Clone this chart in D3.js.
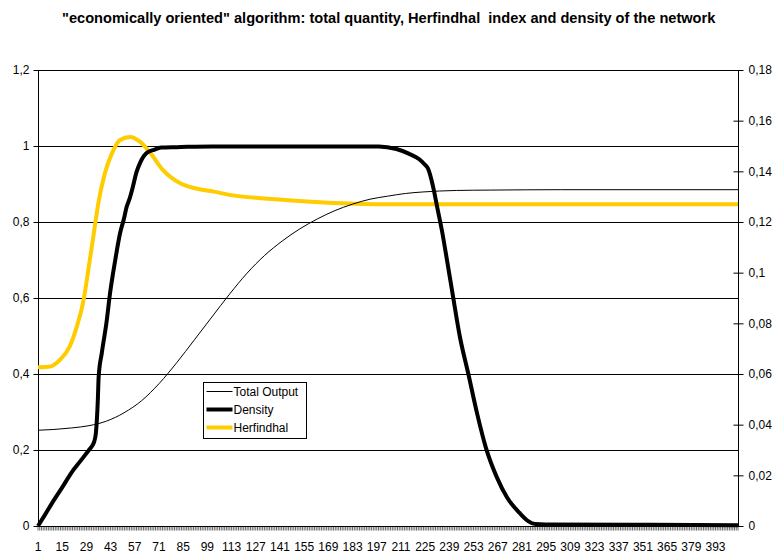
<!DOCTYPE html>
<html><head><meta charset="utf-8">
<script src="https://cdn.jsdelivr.net/npm/d3@7"></script>
<style>
body{margin:0;background:#fff}
svg{display:block}
text{font-family:"Liberation Sans",Arial,sans-serif;fill:#000}
</style>
</head><body>
<svg id="c" width="775" height="554"></svg>
<script>
const chartTitle = "\"economically oriented\" algorithm: total quantity, Herfindhal  index and density of the network";
const categoryFirst = 1, categoryLast = 406;
const xTickLabels = [1,15,29,43,57,71,85,99,113,127,141,155,169,183,197,211,225,239,253,267,281,295,309,323,337,351,365,379,393];
const leftTicks = [0,0.2,0.4,0.6,0.8,1,1.2];
const rightTicks = [0,0.02,0.04,0.06,0.08,0.1,0.12,0.14,0.16,0.18];
const seriesNames = ["Total Output","Density","Herfindhal"];

// Total Output (left axis)
const outputX = [1,10.2,20.3,30.5,40.6,50.8,61,71.1,81.3,91.5,101.6,111.8,121.9,132.1,142.3,152.5,162.6,172.8,183,193.1,203.3,213.5,223.6,243,263,304,406];
const outputY = [0.252,0.254,0.258,0.264,0.276,0.298,0.33,0.375,0.43,0.49,0.55,0.61,0.665,0.712,0.75,0.782,0.808,0.83,0.847,0.86,0.868,0.875,0.879,0.883,0.884,0.885,0.885];

// Density (left axis)
const densityX = [1,5.1,10.2,15.2,20.3,25.4,30.5,32.5,33.5,34.5,35.6,36.1,37.9,40.6,42.7,45.7,48.5,50.8,52.3,53.9,55.9,57.9,60,62,64,68.1,72.2,81.3,101.6,152.5,198.2,208.4,215.5,221.6,224.6,226.7,228.7,230.2,231.7,234.8,237.8,240.9,245,250,255.1,260.2,266.3,272.4,279.5,284.6,288.7,294.8,355.8,406];
const densityY = [0,0.03,0.068,0.103,0.14,0.17,0.2,0.212,0.222,0.245,0.33,0.393,0.455,0.535,0.613,0.7,0.771,0.81,0.84,0.86,0.893,0.93,0.955,0.972,0.982,0.99,0.996,0.997,0.999,0.999,0.999,0.992,0.98,0.965,0.952,0.94,0.91,0.88,0.845,0.775,0.695,0.61,0.5,0.4,0.295,0.205,0.13,0.075,0.035,0.013,0.005,0.004,0.003,0.002];

// Herfindhal (right axis)
const herfX = [1,8.1,13.7,19.3,23.4,27.4,30.1,33,35.9,39.6,43.7,48.5,54.3,60,66,73.2,83.3,92.5,102.7,111.8,132.1,152.5,172.8,203.3,406];
const herfY = [0.0627,0.063,0.0656,0.0708,0.0786,0.0893,0.101,0.1142,0.1274,0.139,0.147,0.1524,0.1536,0.1517,0.1472,0.1406,0.1353,0.1332,0.132,0.1307,0.1293,0.1283,0.1275,0.127,0.127];

const svg = d3.select("#c");
const L = 38, R = 738, T = 70, B = 526;

const x = d3.scaleLinear().domain([categoryFirst, categoryLast]).range([L, R]);
const yL = d3.scaleLinear().domain([0, 1.2]).range([B, T]);
const yR = d3.scaleLinear().domain([0, 0.18]).range([B, T]);
const fmt = v => String(+v.toFixed(2)).replace(".", ",");

// title
svg.append("text").attr("x", 62).attr("y", 23)
  .attr("font-size", 14.6).attr("font-weight", "bold")
  .style("white-space", "pre").text(chartTitle);

// gridlines
svg.append("g").selectAll("line").data(leftTicks.filter(d => d > 0)).join("line")
  .attr("x1", L).attr("x2", R)
  .attr("y1", d => Math.round(yL(d)) + 0.5).attr("y2", d => Math.round(yL(d)) + 0.5)
  .attr("stroke", "#000").attr("stroke-width", 1);

// left axis
const gL = svg.append("g").attr("transform", `translate(${L + 0.5},0)`)
  .call(d3.axisLeft(yL).tickValues(leftTicks).tickFormat(fmt).tickSize(5).tickPadding(4));
gL.selectAll("text").attr("font-size", 12).style("font-family", "Liberation Sans, Arial, sans-serif");
gL.selectAll("path,line").attr("stroke", "#000");
gL.select(".domain").attr("d", `M0,${T}V${B + 0.5}`);

// right axis
const gR = svg.append("g").attr("transform", `translate(${R + 0.5},0)`)
  .call(d3.axisRight(yR).tickValues(rightTicks).tickFormat(fmt).tickSize(5).tickPadding(5));
gR.selectAll("text").attr("font-size", 12).style("font-family", "Liberation Sans, Arial, sans-serif");
gR.selectAll("path,line").attr("stroke", "#000");
gR.selectAll(".tick line").attr("x1", -5).attr("x2", 5);
gR.select(".domain").attr("d", `M0,${T}V${B + 0.5}`);

// bottom axis: tick marks at every category
const allCats = d3.range(categoryFirst, categoryLast + 1);
const gB = svg.append("g").attr("transform", `translate(0,${B + 0.5})`);
gB.append("line").attr("x1", L).attr("x2", R).attr("stroke", "#000");
gB.selectAll("line.t").data(allCats).join("line").attr("class", "t")
  .attr("x1", d => x(d)).attr("x2", d => x(d)).attr("y1", 0).attr("y2", 4)
  .attr("stroke", "#000").attr("stroke-width", 0.6);
gB.selectAll("text").data(xTickLabels).join("text")
  .attr("x", d => x(d)).attr("y", 24).attr("text-anchor", "middle")
  .attr("font-size", 12).text(d => d);

// lines
const mk = (xs, ys) => xs.map((v, i) => [v, ys[i]]);
const lineL = d3.line().x(d => x(d[0])).y(d => yL(d[1])).curve(d3.curveMonotoneX);
const lineR = d3.line().x(d => x(d[0])).y(d => yR(d[1])).curve(d3.curveMonotoneX);

svg.append("path").datum(mk(herfX, herfY)).attr("d", lineR)
  .attr("fill", "none").attr("stroke", "#FFCC00").attr("stroke-width", 4).attr("stroke-linejoin", "round");
svg.append("path").datum(mk(outputX, outputY)).attr("d", lineL)
  .attr("fill", "none").attr("stroke", "#000").attr("stroke-width", 1);
svg.append("path").datum(mk(densityX, densityY)).attr("d", lineL)
  .attr("fill", "none").attr("stroke", "#000").attr("stroke-width", 4).attr("stroke-linejoin", "round");

// legend
const lg = svg.append("g").attr("transform", "translate(203.5,382.5)");
lg.append("rect").attr("width", 103).attr("height", 56).attr("fill", "#fff").attr("stroke", "#000").attr("stroke-width", 1);
const lgStyles = [{c: "#000", w: 1}, {c: "#000", w: 4}, {c: "#FFCC00", w: 4}];
seriesNames.forEach((n, i) => {
  const yy = 9 + i * 18;
  lg.append("line").attr("x1", 3).attr("x2", 29).attr("y1", yy).attr("y2", yy)
    .attr("stroke", lgStyles[i].c).attr("stroke-width", lgStyles[i].w);
  lg.append("text").attr("x", 30).attr("y", yy + 4).attr("font-size", 12).text(n);
});
</script>
</body></html>
